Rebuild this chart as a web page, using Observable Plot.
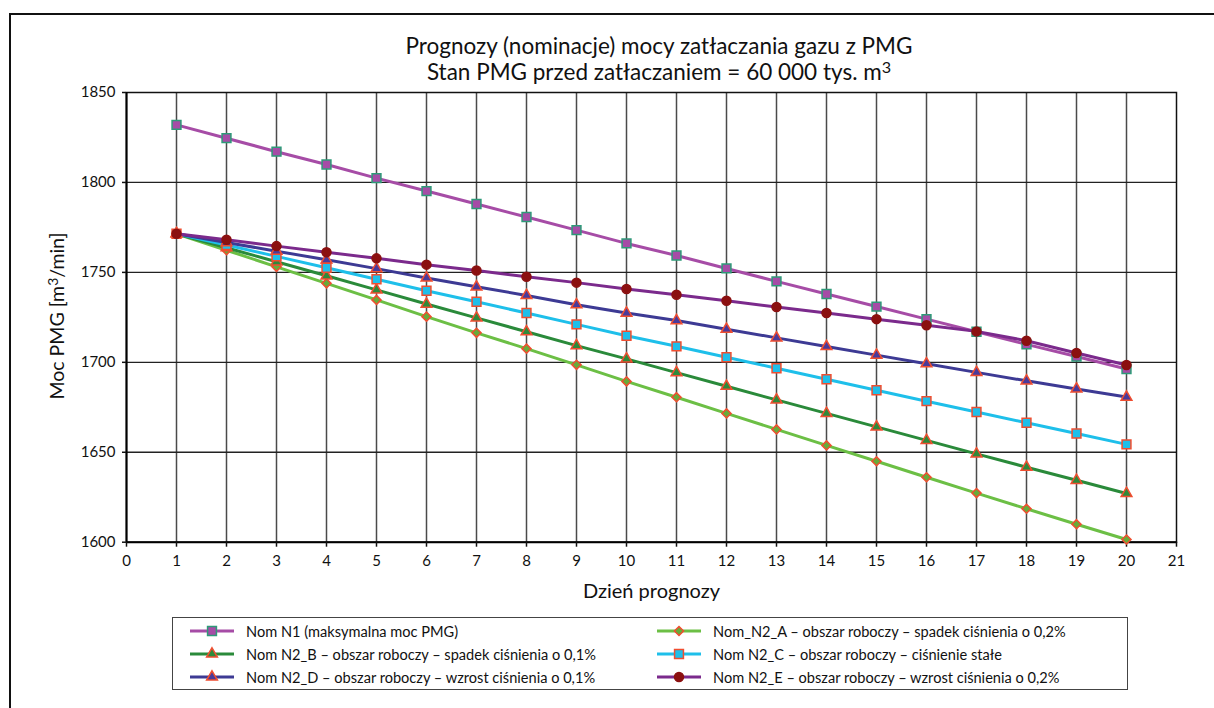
<!DOCTYPE html>
<html>
<head>
<meta charset="utf-8">
<script src="https://cdn.jsdelivr.net/npm/d3@7"></script>
<script src="https://cdn.jsdelivr.net/npm/@observablehq/plot@0.6"></script>
<style>
  html, body { margin: 0; padding: 0; background: #fff; overflow: hidden; }
  body { width: 1214px; height: 708px; position: relative; font-family: Lato, "Open Sans", sans-serif; color: #111; }
  #frame { position: absolute; left: 9px; top: 13px; width: 1400px; height: 900px; border-left: 2px solid #111; border-top: 2px solid #111; pointer-events: none; }
  #title { position: absolute; left: 259px; top: 33px; width: 800px; text-align: center; font-size: 22.5px; line-height: 26px; }
  #title sup, #ylabel sup { font-size: 0.72em; line-height: 0; vertical-align: 0.45em; }
  #ylabel { position: absolute; left: 57px; top: 316px; transform: translate(-50%, -50%) rotate(-90deg); font-size: 19.5px; white-space: nowrap; line-height: 24px; }
  #chart { position: absolute; left: 0; top: 80px; }
  #legend { position: absolute; left: 172px; top: 617px; width: 956px; height: 73px; border: 1.5px solid #444; box-sizing: border-box; }
  .item { position: absolute; height: 20px; display: flex; align-items: center; font-size: 14.6px; white-space: nowrap; }
  .item svg { margin-right: 12px; }
</style>
</head>
<body>
<div id="frame"></div>
<div id="title">Prognozy (nominacje) mocy zatłaczania gazu z PMG<br>Stan PMG przed zatłaczaniem = 60 000 tys. m<sup>3</sup></div>
<div id="chart"></div>
<div id="ylabel">Moc PMG [m<sup>3</sup>/min]</div>
<div id="legend"></div>
<script>
// ---- data ----
const days = [1,2,3,4,5,6,7,8,9,10,11,12,13,14,15,16,17,18,19,20];
const nomN1  = [1832.0,1824.6,1817.1,1810.0,1802.4,1795.2,1788.0,1780.8,1773.5,1766.1,1759.4,1752.2,1745.0,1738.0,1731.0,1724.0,1717.0,1710.0,1703.2,1696.3];
const nomN2A = [1771.5,1762.3,1753.1,1743.9,1734.7,1725.4,1716.4,1707.6,1698.6,1689.4,1680.6,1671.6,1662.7,1653.8,1645.0,1636.1,1627.3,1618.6,1610.0,1601.5];
const nomN2B = [1771.5,1763.7,1755.9,1748.1,1740.3,1732.4,1724.7,1717.0,1709.3,1701.9,1694.3,1686.7,1679.1,1671.6,1664.1,1656.6,1649.1,1641.7,1634.4,1627.1];
const nomN2C = [1771.5,1765.2,1758.9,1752.6,1746.2,1739.8,1733.7,1727.4,1721.1,1714.8,1708.9,1702.8,1696.7,1690.6,1684.5,1678.4,1672.4,1666.4,1660.4,1654.4];
const nomN2D = [1771.5,1766.6,1761.8,1757.0,1752.1,1746.9,1742.0,1737.2,1732.0,1727.4,1723.2,1718.4,1713.6,1708.8,1704.0,1699.2,1694.4,1689.7,1685.2,1680.7];
const nomN2E = [1771.5,1768.1,1764.6,1761.2,1757.8,1754.3,1751.0,1747.6,1744.3,1740.8,1737.6,1734.2,1730.8,1727.4,1724.0,1720.6,1717.2,1712.0,1705.2,1698.5];
const seriesNames = [
  "Nom N1 (maksymalna moc PMG)",
  "Nom_N2_A – obszar roboczy – spadek ciśnienia o 0,2%",
  "Nom N2_B – obszar roboczy – spadek ciśnienia o 0,1%",
  "Nom N2_C – obszar roboczy – ciśnienie stałe",
  "Nom N2_D – obszar roboczy – wzrost ciśnienia o 0,1%",
  "Nom N2_E – obszar roboczy – wzrost ciśnienia o 0,2%"
];
const seriesValues = [nomN1, nomN2A, nomN2B, nomN2C, nomN2D, nomN2E];
const xTicks = [0,1,2,3,4,5,6,7,8,9,10,11,12,13,14,15,16,17,18,19,20,21];
const yTicks = [1600,1650,1700,1750,1800,1850];
const xGrid = [1,2,3,4,5,6,7,8,9,10,11,12,13,14,15,16,17,18,19,20];
const yGrid = [1650,1700,1750,1800];
const xLabel = "Dzień prognozy";

// ---- styles ----
const styles = [
  {line: "#a64ca6", fill: "#a64ca6", stroke: "#2e9a78", symbol: "square",   r: 5.0, d3sym: d3.symbolSquare},
  {line: "#6cbf45", fill: "#68ab3a", stroke: "#f04e30", symbol: "diamond2", r: 4.1, d3sym: d3.symbolDiamond2},
  {line: "#2a8a3a", fill: "#2f8a3a", stroke: "#f04e30", symbol: "triangle", r: 4.0, d3sym: d3.symbolTriangle},
  {line: "#1ebfea", fill: "#1ebfea", stroke: "#f04e30", symbol: "square",   r: 5.0, d3sym: d3.symbolSquare},
  {line: "#3d3a94", fill: "#4a3a9a", stroke: "#f04e30", symbol: "triangle", r: 4.0, d3sym: d3.symbolTriangle},
  {line: "#7b2a8c", fill: "#8b1010", stroke: "#8b1010", symbol: "circle",   r: 4.5, d3sym: d3.symbolCircle}
];

const data = seriesValues.map((vals, s) => days.map((d, i) => ({series: seriesNames[s], day: d, value: vals[i]})));

const seriesMarks = [];
data.forEach((rows, s) => {
  const st = styles[s];
  seriesMarks.push(Plot.line(rows, {x: "day", y: "value", stroke: st.line, strokeWidth: 3}));
  seriesMarks.push(Plot.dot(rows, {x: "day", y: "value", symbol: st.symbol, r: st.r, fill: st.fill, stroke: st.stroke, strokeWidth: 1.5}));
});

const chart = Plot.plot({
  width: 1214,
  height: 520,
  marginLeft: 126,
  marginRight: 38,
  marginTop: 12,
  marginBottom: 58.3,
  x: {domain: [0, 21]},
  y: {domain: [1600, 1850]},
  style: {fontFamily: "Lato, 'Open Sans', sans-serif", fontSize: "15px", color: "#111", background: "transparent", overflow: "visible"},
  marks: [
    Plot.ruleX(xGrid, {stroke: "#4a4a4a", strokeWidth: 1.5}),
    Plot.ruleY(yGrid, {stroke: "#222", strokeWidth: 1.3}),
    Plot.frame({stroke: "#111", strokeWidth: 1.5}),
    Plot.ruleX([0], {stroke: "#000", strokeWidth: 2}),
    Plot.ruleY([1600], {stroke: "#000", strokeWidth: 2}),
    Plot.axisX({ticks: xTicks, tickSize: 5, tickPadding: 8, tickFormat: d => String(d), label: null, fontSize: 15, strokeWidth: 1.5}),
    Plot.axisY({ticks: yTicks, tickSize: 4, tickPadding: 7, tickFormat: d => String(d), label: null, fontSize: 15, strokeWidth: 1.5}),
    ...seriesMarks,
    Plot.text([xLabel], {text: d => d, frameAnchor: "bottom", textAnchor: "middle", lineAnchor: "middle", dy: 49, fontSize: 20})
  ]
});
document.getElementById("chart").appendChild(chart);

// ---- legend ----
const legend = document.getElementById("legend");
const legendOrder = [0, 2, 4, 1, 3, 5]; // column-wise as in the reference
legendOrder.forEach((s, k) => {
  const col = Math.floor(k / 3), row = k % 3;
  const st = styles[s];
  const item = document.createElement("div");
  item.className = "item";
  item.style.left = (col === 0 ? 17 : 484) + "px";
  item.style.top = (3 + row * 23) + "px";
  const ns = "http://www.w3.org/2000/svg";
  const svg = document.createElementNS(ns, "svg");
  svg.setAttribute("width", 44); svg.setAttribute("height", 20);
  const ln = document.createElementNS(ns, "line");
  ln.setAttribute("x1", 0); ln.setAttribute("x2", 44); ln.setAttribute("y1", 10); ln.setAttribute("y2", 10);
  ln.setAttribute("stroke", st.line); ln.setAttribute("stroke-width", 3);
  svg.appendChild(ln);
  const p = document.createElementNS(ns, "path");
  p.setAttribute("d", d3.symbol(st.d3sym, Math.PI * st.r * st.r)());
  p.setAttribute("transform", "translate(22,10)");
  p.setAttribute("fill", st.fill); p.setAttribute("stroke", st.stroke); p.setAttribute("stroke-width", 1.5);
  svg.appendChild(p);
  item.appendChild(svg);
  const t = document.createElement("span");
  t.textContent = seriesNames[s];
  item.appendChild(t);
  legend.appendChild(item);
});
</script>
</body>
</html>
